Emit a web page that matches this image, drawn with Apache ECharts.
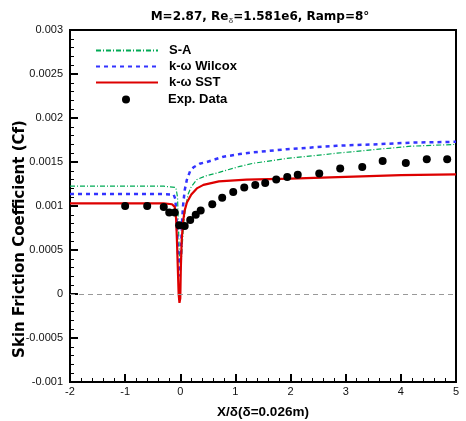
<!DOCTYPE html>
<html>
<head>
<meta charset="utf-8">
<script src="https://cdn.jsdelivr.net/npm/echarts@6/dist/echarts.min.js"></script>
<style>html,body{margin:0;padding:0;background:#fff;}#c{width:466px;height:421px;}</style>
</head>
<body>
<div id="c"></div>
<script>
var saX  = [-2, -0.3, -0.08, -0.05, -0.03, -0.01, 0.01, 0.03, 0.06, 0.1, 0.145, 0.2, 0.3, 0.45, 0.69, 1.08, 1.32, 1.93, 2.84, 3.5, 4.2, 5.0];
var saCf = [0.001225, 0.001225, 0.00121, 0.0011, 0.0007, 0.0004, 0.0003, 0.0005, 0.0008, 0.001, 0.00114, 0.00122, 0.0013, 0.00134, 0.00138, 0.00145, 0.001485, 0.00154, 0.0016, 0.00164, 0.00168, 0.0017];

var wilX  = [-2, -0.3, -0.12, -0.09, -0.07, -0.05, -0.03, -0.01, 0.0, 0.01, 0.03, 0.05, 0.08, 0.12, 0.18, 0.24, 0.35, 0.48, 0.78, 1.08, 1.32, 1.93, 2.84, 3.5, 4.2, 5.0];
var wilCf = [0.001135, 0.001135, 0.00113, 0.00108, 0.0009, 0.0006, 0.0003, 0.0002, 0.0002, 0.0004, 0.0008, 0.001, 0.00118, 0.0013, 0.0014, 0.00144, 0.00148, 0.0015, 0.00156, 0.00159, 0.00161, 0.001645, 0.001685, 0.0017, 0.00172, 0.00173];

var sstX  = [-2, -1, -0.3, -0.15, -0.1, -0.075, -0.06, -0.045, -0.03, -0.015, 0.0, 0.01, 0.025, 0.05, 0.08, 0.12, 0.2, 0.3, 0.42, 0.7, 1.2, 2.0, 3.0, 4.0, 5.0];
var sstCf = [0.00103, 0.00103, 0.00103, 0.00102, 0.00099, 0.00085, 0.0006, 0.0003, 0.0000, -0.0001, -0.00005, 0.0003, 0.0006, 0.00082, 0.00095, 0.00104, 0.00113, 0.0012, 0.00124, 0.00128, 0.0013, 0.00131, 0.00133, 0.00135, 0.00136];

var expX  = [-1.0, -0.6, -0.3, -0.2, -0.1, -0.02, 0.08, 0.18, 0.28, 0.37, 0.58, 0.76, 0.96, 1.16, 1.36, 1.54, 1.74, 1.94, 2.13, 2.52, 2.9, 3.3, 3.67, 4.09, 4.47, 4.84];
var expCf = [0.001, 0.001, 0.00099, 0.000925, 0.000925, 0.000782, 0.000773, 0.00084, 0.0009, 0.00095, 0.00102, 0.001095, 0.00116, 0.00121, 0.00124, 0.00126, 0.0013, 0.00133, 0.001356, 0.00137, 0.001425, 0.001443, 0.00151, 0.00149, 0.00153, 0.00153];

var seriesNames = ['S-A', 'k-ω Wilcox', 'k-ω SST', 'Exp. Data'];

function pairs(xs, ys) { return xs.map(function (x, i) { return [x, ys[i]]; }); }

var chart = echarts.init(document.getElementById('c'), null, { renderer: 'canvas' });
var font = 'Arial, "Liberation Sans", sans-serif';
var wideFont = '"DejaVu Sans", sans-serif';
chart.setOption({
  animation: false,
  backgroundColor: '#fff',
  title: {
    text: 'M=2.87, Re{sub|δ}=1.581e6, Ramp=8°',
    left: 255, top: 4, textAlign: 'center',
    textStyle: {
      fontFamily: wideFont, fontSize: 12, fontWeight: 'bold', color: '#000',
      rich: { sub: { fontFamily: font, fontSize: 8, color: '#666', verticalAlign: 'bottom', padding: [8, 0, 0, 0] } }
    }
  },
  legend: [
    {
      data: seriesNames.slice(0, 3), orient: 'vertical', left: 95, top: 44, padding: 0,
      itemWidth: 62, itemHeight: 14, itemGap: 3,
      itemStyle: { opacity: 0 },
      textStyle: { fontFamily: font, fontSize: 13, fontWeight: 'bold', color: '#000', padding: [0, 0, 0, 6] }
    },
    {
      data: [seriesNames[3]], orient: 'vertical', left: 122, top: 93, padding: 0,
      itemWidth: 8, itemHeight: 8,
      textStyle: { fontFamily: font, fontSize: 13, fontWeight: 'bold', color: '#000', padding: [0, 0, 0, 33] }
    }
  ],
  grid: {
    left: 70, top: 30, right: 10, bottom: 39, outerBoundsMode: 'none', containLabel: false,
    show: true, borderColor: '#000', borderWidth: 2, backgroundColor: 'transparent'
  },
  xAxis: {
    type: 'value', min: -2, max: 5, interval: 1,
    name: 'X/δ(δ=0.026m)', nameLocation: 'middle', nameGap: 23, nameMoveOverlap: false,
    nameTextStyle: { fontFamily: font, fontSize: 13.5, fontWeight: 'bold', color: '#000' },
    axisLine: { onZero: false, lineStyle: { color: '#000', width: 2 } },
    axisTick: { inside: true, length: 8, lineStyle: { color: '#000', width: 2 } },
    minorTick: { show: true, splitNumber: 5, length: 4, lineStyle: { color: '#000', width: 1 } },
    splitLine: { show: false },
    axisLabel: { fontFamily: font, fontSize: 11, color: '#111', margin: 4 }
  },
  yAxis: {
    type: 'value', min: -0.001, max: 0.003, interval: 0.0005,
    name: 'Skin Friction Coefficient (Cf)', nameLocation: 'middle', nameGap: 42, nameMoveOverlap: false,
    nameTextStyle: { fontFamily: wideFont, fontSize: 15, fontWeight: 'bold', color: '#000', padding: [0, 66, 0, 0] },
    axisLine: { onZero: false, lineStyle: { color: '#000', width: 2 } },
    axisTick: { inside: true, length: 8, lineStyle: { color: '#000', width: 2 } },
    minorTick: { show: true, splitNumber: 5, length: 4, lineStyle: { color: '#000', width: 1 } },
    splitLine: { show: false },
    axisLabel: {
      fontFamily: font, fontSize: 11, color: '#111', margin: 7,
      formatter: function (v) { return String(+v.toFixed(4)); }
    }
  },
  series: [
    {
      name: seriesNames[0], type: 'line', data: pairs(saX, saCf), symbol: 'none', z: 3,
      lineStyle: { color: '#00aa55', width: 1.2, type: [5, 2, 1, 2] }, itemStyle: { color: '#00aa55' },
      markLine: {
        silent: true, symbol: 'none', label: { show: false },
        lineStyle: { color: '#999', type: [5, 4], width: 1 },
        data: [{ yAxis: 0 }]
      }
    },
    {
      name: seriesNames[1], type: 'line', data: pairs(wilX, wilCf), symbol: 'none', z: 3,
      lineStyle: { color: '#3333ff', width: 2.5, type: [4, 4] }, itemStyle: { color: '#3333ff' }
    },
    {
      name: seriesNames[2], type: 'line', data: pairs(sstX, sstCf), symbol: 'none', z: 4,
      lineStyle: { color: '#dd0000', width: 2.2 }, itemStyle: { color: '#dd0000' }
    },
    {
      name: seriesNames[3], type: 'scatter', data: pairs(expX, expCf), symbol: 'circle', symbolSize: 8, z: 5,
      itemStyle: { color: '#000', opacity: 1 }
    }
  ]
});
</script>
</body>
</html>
